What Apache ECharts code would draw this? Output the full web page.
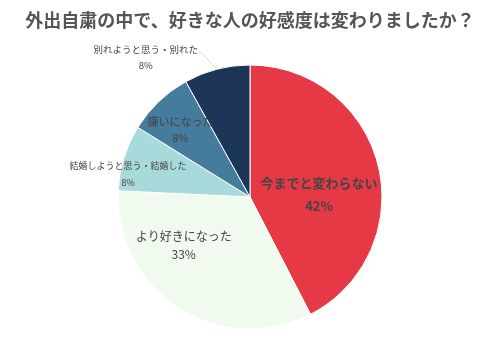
<!DOCTYPE html>
<html><head><meta charset="utf-8">
<script src="https://cdn.jsdelivr.net/npm/echarts@6/dist/echarts.min.js"></script>
<style>html,body{margin:0;padding:0;background:#fff}#c{width:500px;height:357px}</style>
</head><body><div id="c"></div>
<script>
const categories = ['今までと変わらない','より好きになった','結婚しようと思う・結婚した','嫌いになった','別れようと思う・別れた'];
const values = [42, 33, 8, 8, 8];
const colors = ['#E63946','#F1FAEE','#A8DADC','#457B9D','#1D3557'];
const labelSizes = [13, 12, 9, 11, 9.5];
const labelLines = [23, 18, 17, 16, 16];
const labelShift = [[2,14],[-29,-10],[-56,-2],[-22,-17],[-59,0]];

const chart = echarts.init(document.getElementById('c'));
chart.setOption({
  animation:false,
  title:{text:'外出自粛の中で、好きな人の好感度は変わりましたか？',left:'center',top:6,
    textStyle:{fontFamily:'Noto Sans CJK JP',fontSize:18,fontWeight:'bold',color:'#555'}},
  series:[{
    type:'pie',center:[250,197],radius:132,startAngle:90,clockwise:true,
    itemStyle:{borderColor:'#fff',borderWidth:1},
    data:categories.map((n,i)=>({name:n,value:values[i],itemStyle:{color:colors[i]},
      label:{position:i===4?'outside':'inside',fontSize:labelSizes[i],fontWeight:i===0?'bold':'normal',lineHeight:labelLines[i]},
      labelLine:{show:i===4,length:12,length2:4,lineStyle:{color:'#d9d9d9',width:1}}})),
    label:{formatter:p=>p.name+'\n'+Math.round(p.value)+'%',color:'#444',fontFamily:'Noto Sans CJK JP',align:'center'},
    labelLayout:function(p){
      const s=labelShift[p.dataIndex];
      if(p.dataIndex===4){
        const o=p.labelLinePoints&&p.labelLinePoints[0];
        const r={dx:s[0],dy:s[1],align:'center'};
        if(o){r.labelLinePoints=[[o[0],o[1]],[o[0]-16,o[1]-17],[o[0]-18,o[1]-17]];}
        return r;
      }
      return {dx:s[0],dy:s[1]};
    }
  }]
});
</script></body></html>
